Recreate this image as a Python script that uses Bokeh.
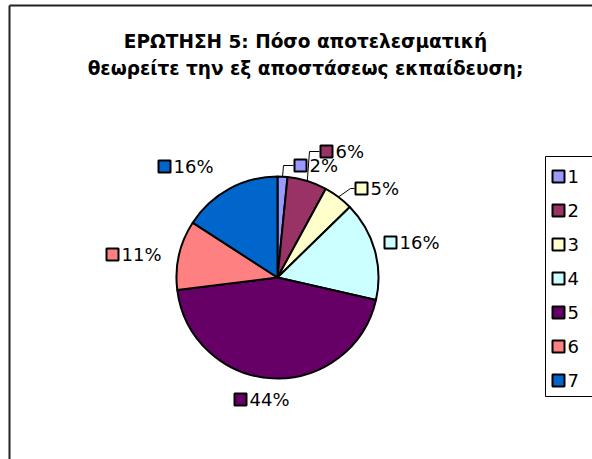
import numpy as np
from bokeh.plotting import figure
from bokeh.models import Range1d
from bokeh.embed import file_html
from bokeh.resources import INLINE
from bokeh.core.properties import value

# ---------------- data ----------------
title_lines = ["ΕΡΩΤΗΣΗ 5: Πόσο αποτελεσματική",
               "θεωρείτε την εξ αποστάσεως εκπαίδευση;"]
categories = ["1", "2", "3", "4", "5", "6", "7"]
counts = [1, 4, 3, 10, 28, 7, 10]
colors = ["#9999FF", "#993366", "#FFFFCC", "#CCFFFF", "#660066", "#FF8080", "#0066CC"]

# ---------------- layout (image pixel coordinates) ----------------
W, H = 592, 459
PIE_C = (277, 277)
PIE_R = 101
LABEL_SQ = [(300, 165), (326, 151), (361, 188), (390, 242), (240, 399), (112, 254), (164, 166)]
LEADER_KNEE = {0: (283, 165), 1: (309, 151), 2: (350, 188)}
LEG_BOX = (545, 156, 640, 396)
LEG_X, LEG_Y0, LEG_DY = 558, 176, 34
FONT = "DejaVu Sans"
LBL_SIZE = "18px"
SQ = 12


def X(px):
    return px


def Y(py):
    return H - py


p = figure(width=W, height=H, x_range=Range1d(0, W), y_range=Range1d(0, H),
           output_backend="svg", toolbar_location=None, min_border=0,
           x_axis_type=None, y_axis_type=None)
p.grid.visible = False
p.outline_line_color = None
p.background_fill_color = "white"
p.border_fill_color = "white"

# chart area border (left and top visible)
p.line(x=[X(9), X(9)], y=[Y(5), Y(470)], line_color="#222222", line_width=2)
p.line(x=[X(9), X(640)], y=[Y(5), Y(5)], line_color="#222222", line_width=2)

# title
for i, t in enumerate(title_lines):
    p.text(x=[X(305)], y=[Y(41 + 26.5 * i)], text=[t], text_align="center",
           text_baseline="alphabetic", text_font=value(FONT), text_font_style="bold",
           text_font_size="18.5px", text_color="black")

# pie
counts_a = np.array(counts, dtype=float)
frac = counts_a / counts_a.sum()
cum = np.concatenate([[0.0], np.cumsum(frac)])
start = np.pi / 2 - cum[:-1] * 2 * np.pi
end = np.pi / 2 - cum[1:] * 2 * np.pi
mid = (start + end) / 2
cx, cy = X(PIE_C[0]), Y(PIE_C[1])
p.wedge(x=cx, y=cy, radius=PIE_R, start_angle=start, end_angle=end, direction="clock",
        fill_color=colors, line_color="black", line_width=2)

# leader lines
for i, (kx, ky) in LEADER_KNEE.items():
    ex = cx + PIE_R * np.cos(mid[i])
    ey = cy + PIE_R * np.sin(mid[i])
    sx = LABEL_SQ[i][0] - 7
    p.line(x=[ex, X(kx), X(sx)], y=[ey, Y(ky), Y(ky)], line_color="black", line_width=1)

# percentage labels
pct = [f"{int(round(100 * f))}%" for f in frac]
lx = [X(a) for a, b in LABEL_SQ]
ly = [Y(b) for a, b in LABEL_SQ]
p.rect(x=lx, y=ly, width=SQ, height=SQ, fill_color=colors, line_color="black", line_width=2)
p.text(x=[v + 9 for v in lx], y=ly, text=pct, text_align="left", text_baseline="middle",
       text_font=value(FONT), text_font_size=LBL_SIZE, text_color="black")

# legend (box extends past the right edge of the window)
l, t, r, b = LEG_BOX
p.line(x=[X(r), X(l), X(l), X(r)], y=[Y(t), Y(t), Y(b), Y(b)],
       line_color="black", line_width=1)
gx = [X(LEG_X)] * len(categories)
gy = [Y(LEG_Y0 + LEG_DY * i) for i in range(len(categories))]
p.rect(x=gx, y=gy, width=SQ, height=SQ, fill_color=colors, line_color="black", line_width=2)
p.text(x=[v + 9 for v in gx], y=gy, text=categories, text_align="left", text_baseline="middle",
       text_font=value(FONT), text_font_size=LBL_SIZE, text_color="black")

open("out.html", "w").write(file_html(p, INLINE))
